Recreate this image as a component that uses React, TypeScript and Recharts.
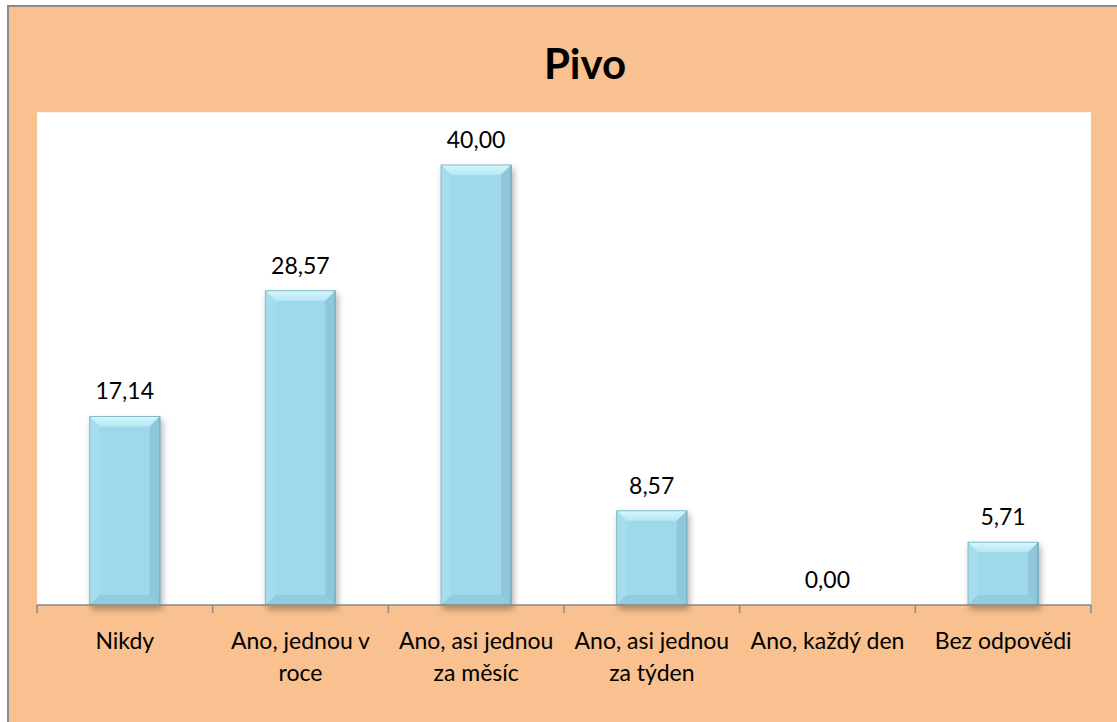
import React from 'react';
import { BarChart, Bar, XAxis, YAxis, LabelList, ReferenceArea } from 'recharts';

const categories: string[] = [
  'Nikdy',
  'Ano, jednou v\nroce',
  'Ano, asi jednou\nza měsíc',
  'Ano, asi jednou\nza týden',
  'Ano, každý den',
  'Bez odpovědi',
];
const values: number[] = [17.14, 28.57, 40.0, 8.57, 0.0, 5.71];
const title = 'Pivo';

const data = categories.map((c, i) => ({ name: c, value: values[i] }));

const FONT = 'Lato, "Open Sans", sans-serif';
const W = 1117;
const H = 722;

const BevelBar = (props: any) => {
  const { x, y, width: w, height: h } = props;
  if (!h || h <= 0) return null;
  const b = Math.min(10, w / 4, h / 3);
  return (
    <g filter="url(#barShadow)">
      <rect x={x} y={y} width={w} height={h} fill="#9ED8EA" />
      <polygon points={`${x},${y} ${x + w},${y} ${x + w - b},${y + b} ${x + b},${y + b}`} fill="url(#topGrad)" />
      <polygon points={`${x},${y} ${x + b},${y + b} ${x + b},${y + h - b} ${x},${y + h}`} fill="#A6DDED" />
      <polygon points={`${x + w},${y} ${x + w},${y + h} ${x + w - b},${y + h - b} ${x + w - b},${y + b}`} fill="#8DC7D9" />
      <polygon points={`${x},${y + h} ${x + w},${y + h} ${x + w - b},${y + h - b} ${x + b},${y + h - b}`} fill="#92CDDF" />
      <line x1={x + w} y1={y} x2={x + w} y2={y + h} stroke="#6E9FAF" strokeWidth={1.5} />
      <rect x={x} y={y} width={w} height={h} fill="none" stroke="#84B8C8" strokeWidth={1} />
    </g>
  );
};

const CatTick = (props: any) => {
  const { x, y, payload, index } = props;
  const half = payload && payload.offset ? payload.offset : 87.8;
  const lines = String(payload.value).split('\n');
  return (
    <g>
      <line x1={x - half} y1={605} x2={x - half} y2={613} stroke="#888" strokeWidth={1.5} />
      {index === categories.length - 1 && (
        <line x1={x + half} y1={605} x2={x + half} y2={613} stroke="#888" strokeWidth={1.5} />
      )}
      {lines.map((l, i) => (
        <text
          key={i}
          x={x}
          y={649 + i * 32}
          textAnchor="middle"
          fontFamily={FONT}
          fontSize={23}
          fill="#000"
        >
          {l}
        </text>
      ))}
    </g>
  );
};

const fmt = (v: any) => Number(v).toFixed(2).replace('.', ',');

export default function App() {
  return (
    <div style={{ position: 'absolute', left: 0, top: 0, width: W, height: H, overflow: 'hidden', background: '#fff' }}>
      <div
        style={{
          position: 'absolute',
          left: 7,
          top: 5,
          width: W + 40,
          height: H + 40,
          background: '#F9C18F',
          borderTop: '2px solid #8C8C8C',
          borderLeft: '2px solid #8C8C8C',
        }}
      />
      <div
        style={{
          position: 'absolute',
          left: 485,
          width: 200,
          top: 35,
          textAlign: 'center',
          fontFamily: FONT,
          fontWeight: 'bold',
          fontSize: 42,
          lineHeight: '56px',
          color: '#000',
        }}
      >
        {title}
      </div>
      <div style={{ position: 'absolute', left: 0, top: 0 }}>
        <BarChart
          width={W}
          height={H}
          data={data}
          margin={{ top: 110, right: 26, bottom: 0, left: 37 }}
          barCategoryGap="30%"
        >
          <defs>
            <linearGradient id="topGrad" x1="0" y1="0" x2="0" y2="1">
              <stop offset="0%" stopColor="#D6F6FC" />
              <stop offset="100%" stopColor="#B5E8F4" />
            </linearGradient>
            <filter id="barShadow" x="-20%" y="-10%" width="150%" height="130%">
              <feDropShadow dx="2" dy="4" stdDeviation="3" floodColor="#000" floodOpacity="0.3" />
            </filter>
          </defs>
          <YAxis hide domain={[0, 45]} ticks={[0, 45]} />
          <ReferenceArea y1={0} y2={44.8} fill="#ffffff" fillOpacity={1} stroke="none" />
          <XAxis
            dataKey="name"
            height={117}
            interval={0}
            axisLine={{ stroke: '#888', strokeWidth: 1.5 }}
            tickLine={false}
            tick={<CatTick />}
          />
          <Bar dataKey="value" isAnimationActive={false} shape={<BevelBar />}>
            <LabelList
              dataKey="value"
              position="top"
              offset={17}
              formatter={fmt}
              fill="#000"
              fontFamily={FONT}
              fontSize={23}
            />
          </Bar>
        </BarChart>
      </div>
    </div>
  );
}
